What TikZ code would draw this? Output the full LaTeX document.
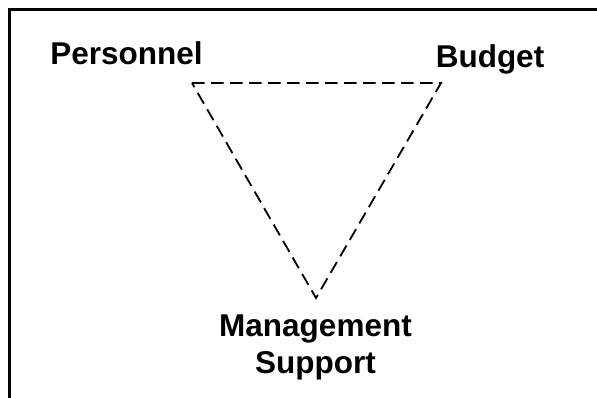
\documentclass[tikz,border=0pt]{standalone}
\usepackage{fontspec}
\setmainfont{Liberation Sans}
\begin{document}
\begin{tikzpicture}[x=1pt,y=-1pt,
  lbl/.style={font=\bfseries\fontsize{31.5}{37}\selectfont, inner sep=0pt, anchor=base, align=center},
  tri/.style={draw, line width=1.8pt, dash pattern=on 12.5pt off 6.5pt}]
\useasboundingbox (0,0) rectangle (597,398);
\draw[line width=3pt] (9,400) -- (9,10) -- (599,10);
\coordinate (p) at (192,83);
\coordinate (b) at (441,83);
\coordinate (m) at (316,298);
\draw[tri] (p) -- (b) -- (m) -- cycle;
\node[lbl] (per) at (126.5,65) {Personnel};
\node[lbl] (bud) at (490,68) {Budget};
\node[lbl] (man) at (315.5,373) {Management\\Support};
\end{tikzpicture}
\end{document}
